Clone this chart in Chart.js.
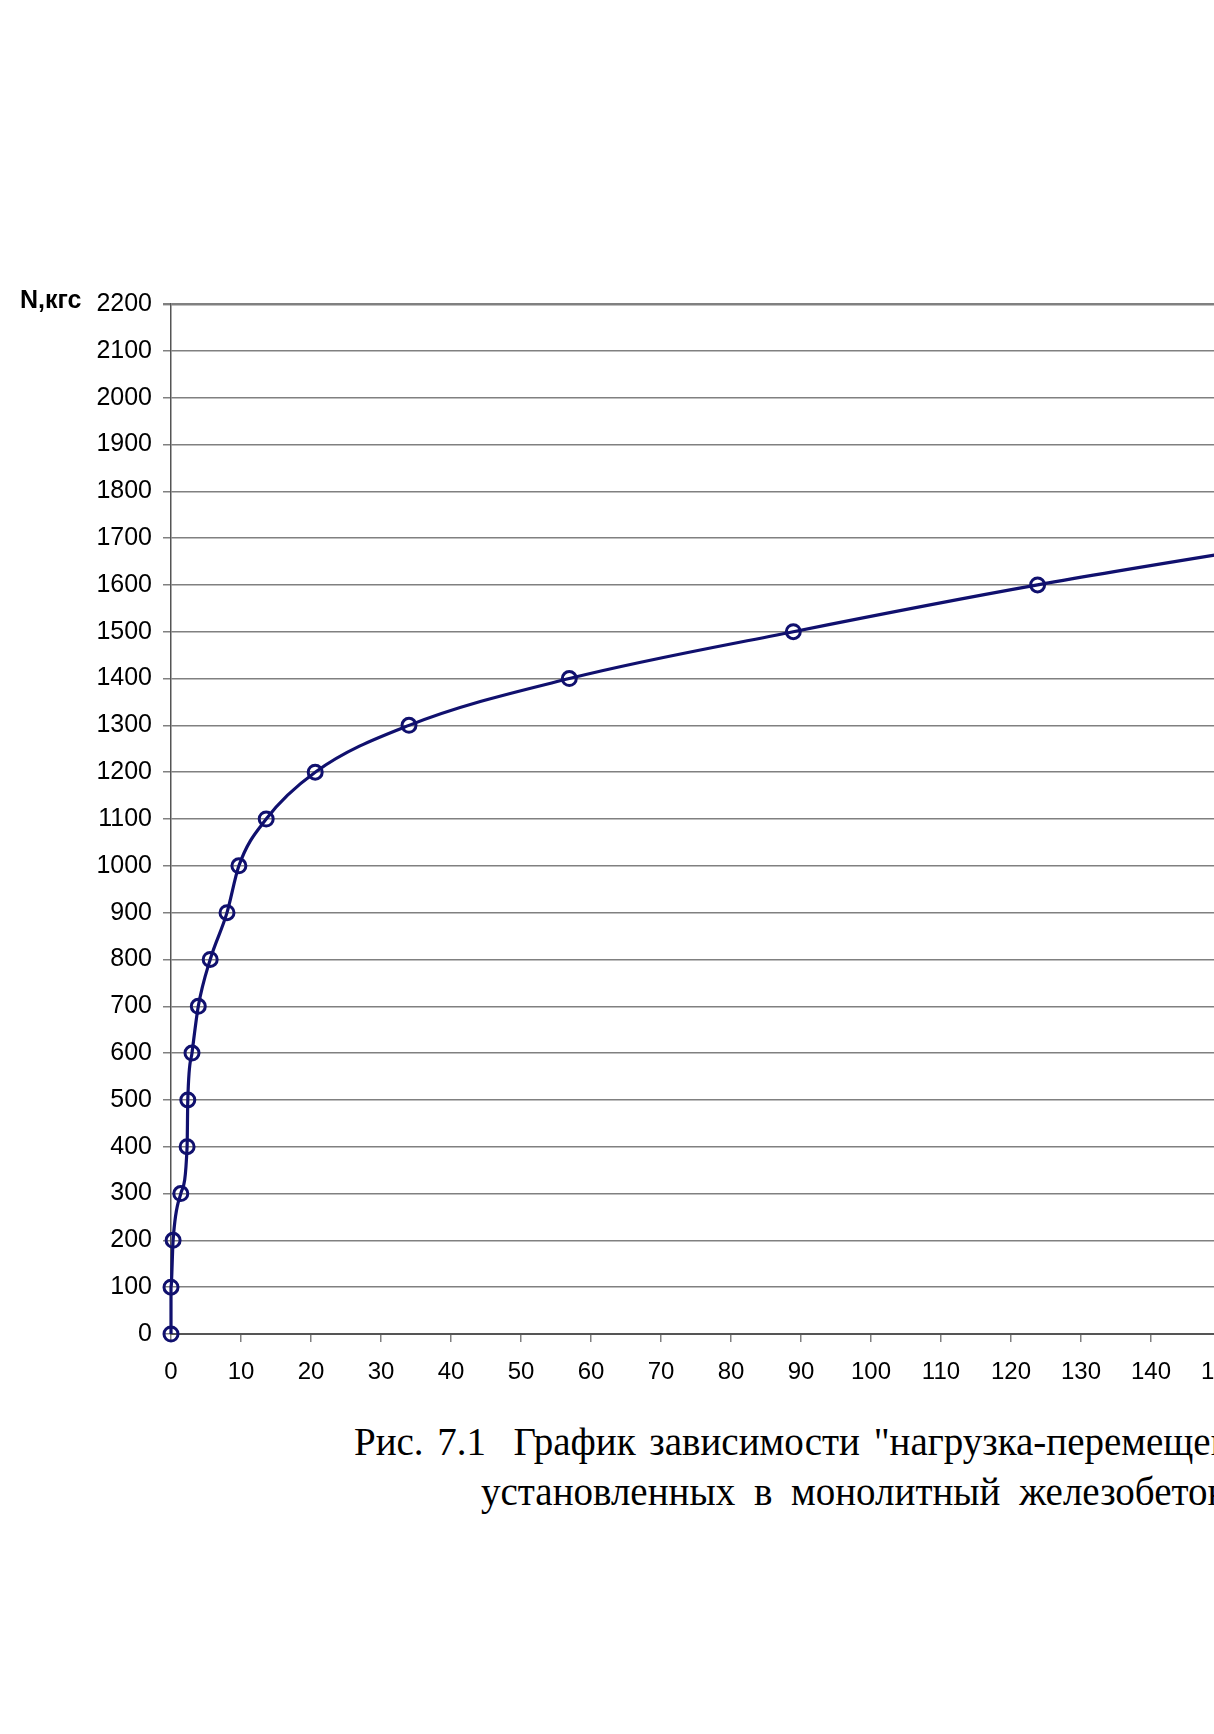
<!DOCTYPE html>
<html>
<head>
<meta charset="utf-8">
<script src="https://cdn.jsdelivr.net/npm/chart.js@4/dist/chart.umd.min.js"></script>
<style>
  html, body { margin: 0; padding: 0; background: #fff; overflow: hidden; width: 1214px; height: 1734px; }
  #wrap { position: absolute; left: 0; top: 0; width: 1400px; height: 1394px; }
  .t { position: absolute; white-space: nowrap; line-height: 1; color: #000; }
  #ytitle { left: 20px; top: 285px; font: bold 25px "Liberation Sans", Arial, sans-serif; }
  .cap { font-family: "Liberation Serif", "Times New Roman", serif; font-size: 39px; }
  #cap1 { left: 354px; top: 1422px; word-spacing: 4px; }
  #cap2 { left: 481px; top: 1472px; word-spacing: 9px; }
</style>
</head>
<body>
<div id="wrap"><canvas id="c" width="1400" height="1394"></canvas></div>
<div id="ytitle" class="t">N,кгс</div>
<div id="cap1" class="t cap">Рис. 7.1&nbsp;&nbsp;График зависимости "нагрузка-перемещение" для анкеров,</div>
<div id="cap2" class="t cap">установленных в монолитный железобетон</div>
<script>
// Load N, kgf
const loads = [0, 100, 200, 300, 400, 500, 600, 700, 800, 900, 1000, 1100, 1200, 1300, 1400, 1500, 1600, 1700];
// Displacement (x axis)
const displacements = [0, 0, 0.3, 1.4, 2.3, 2.4, 3.0, 3.9, 5.6, 8.0, 9.7, 13.6, 20.6, 34.0, 56.9, 88.9, 123.8, 164];
const xTicks = { min: 0, max: 170, step: 10 };
const yTicks = { min: 0, max: 2200, step: 100 };

const points = displacements.map((x, i) => ({ x: x, y: loads[i] }));
const navy = '#10106e';
const gridGray = '#808080';

new Chart(document.getElementById('c'), {
  type: 'line',
  data: {
    datasets: [{
      data: points,
      borderColor: navy,
      borderWidth: 3.2,
      pointRadius: 7,
      pointHoverRadius: 7,
      pointBorderWidth: 3,
      pointBorderColor: navy,
      pointBackgroundColor: 'rgba(0,0,0,0)',
      cubicInterpolationMode: 'monotone',
      fill: false,
      clip: false
    }]
  },
  options: {
    responsive: false,
    animation: false,
    events: [],
    layout: { padding: { top: 304, left: 0, right: 39, bottom: 0 } },
    plugins: { legend: { display: false }, tooltip: { enabled: false }, title: { display: false } },
    scales: {
      x: {
        type: 'linear',
        min: xTicks.min,
        max: xTicks.max,
        ticks: {
          stepSize: xTicks.step,
          color: '#000',
          font: { family: '"Liberation Sans", Arial, sans-serif', size: 24 },
          padding: 16,
          maxRotation: 0,
          autoSkip: false,
          callback: (v) => String(v)
        },
        grid: { display: true, drawOnChartArea: false, drawTicks: true, tickLength: 8, tickColor: gridGray, lineWidth: 1.5 },
        border: { display: true, color: '#555', width: 2 },
        afterFit: (s) => { s.height = 60; }
      },
      y: {
        type: 'linear',
        min: yTicks.min,
        max: yTicks.max,
        ticks: {
          stepSize: yTicks.step,
          color: '#000',
          font: { family: '"Liberation Sans", Arial, sans-serif', size: 25 },
          padding: 11,
          autoSkip: false,
          callback: (v) => String(v)
        },
        grid: {
          display: true,
          drawOnChartArea: true,
          drawTicks: true,
          tickLength: 8,
          color: gridGray,
          tickColor: gridGray,
          lineWidth: (ctx) => (ctx.tick && ctx.tick.value === yTicks.max) ? 2.4 : 1.5
        },
        border: { display: true, color: '#555', width: 1.5 },
        afterFit: (s) => { s.width = 171; }
      }
    }
  }
});
</script>
</body>
</html>
